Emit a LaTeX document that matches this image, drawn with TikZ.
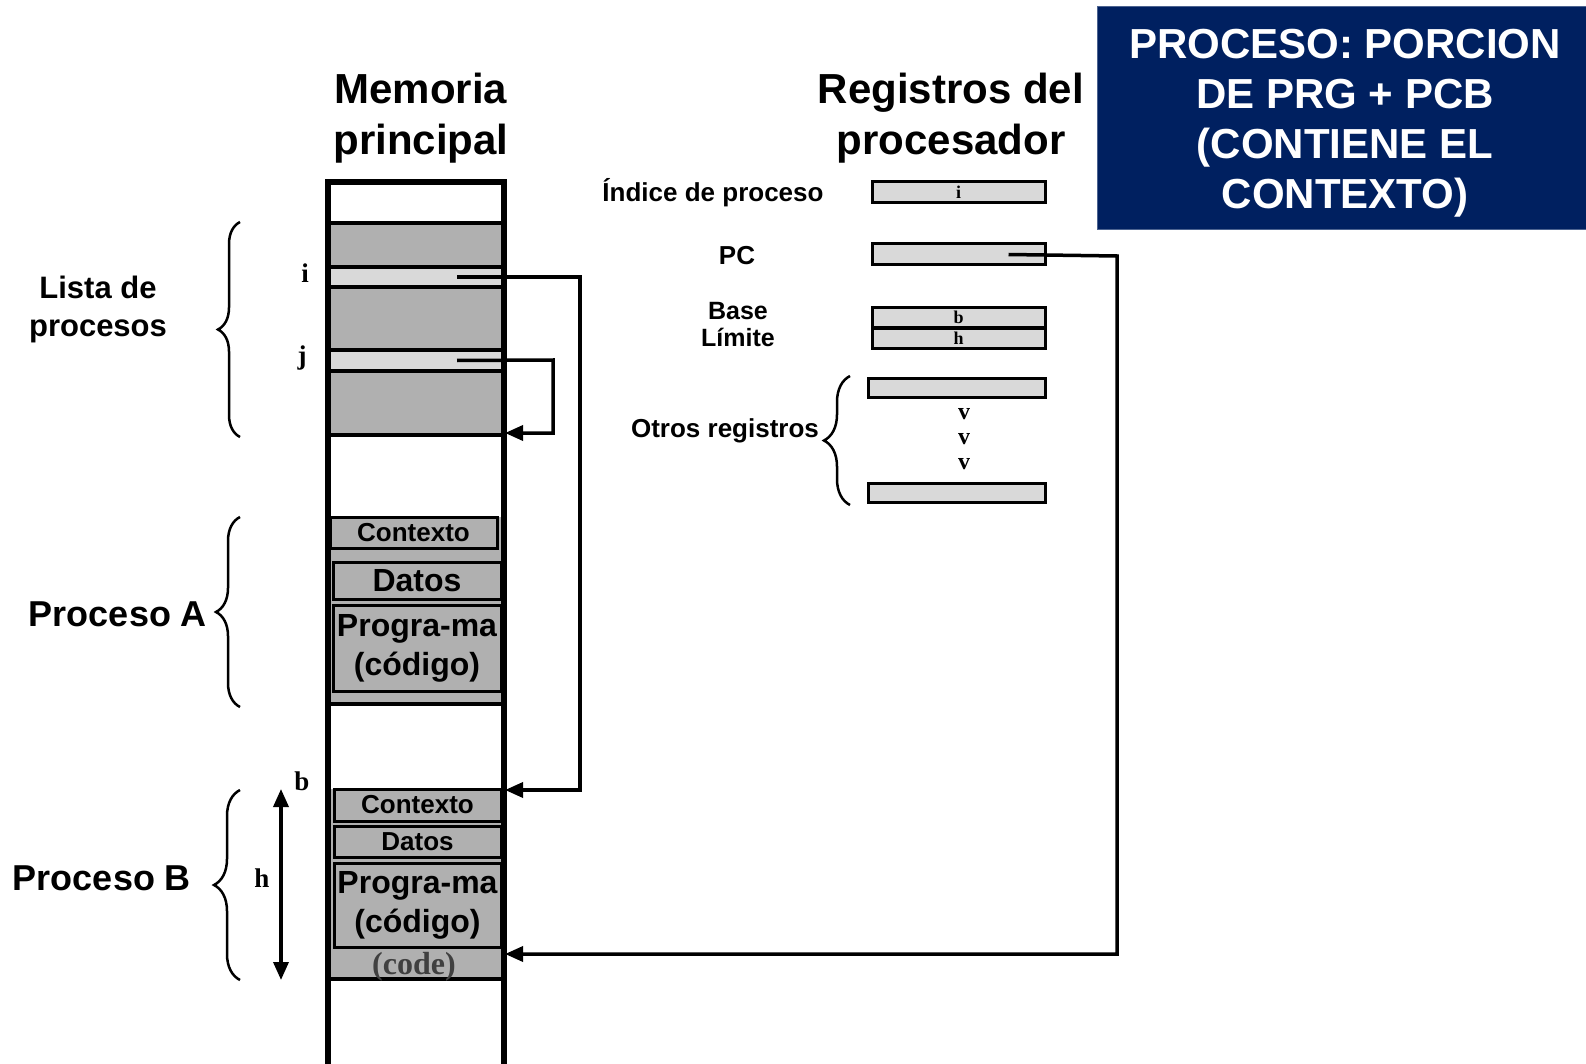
\documentclass[tikz,border=0pt]{standalone}
\usepackage{fontspec}
\setmainfont{Liberation Sans}
\newfontfamily\serifb{Liberation Serif}
\usetikzlibrary{arrows.meta,decorations.pathreplacing,calc}
\definecolor{memgray}{RGB}{176,176,176}
\definecolor{slotgray}{RGB}{217,217,217}
\definecolor{navy}{RGB}{0,32,96}
\newcommand\fsz[2]{\fontsize{#1pt}{#2pt}\selectfont\bfseries}
\begin{document}
\begin{tikzpicture}[x=1pt,y=-1pt,
  inbox/.style={draw=black,line width=3pt,fill=memgray,inner sep=0pt},
  reg/.style={draw=black,line width=3pt,fill=slotgray,inner sep=0pt,minimum width=173pt,minimum height=21pt},
  arr/.style={line width=3.5pt,-{Triangle[length=18pt,width=15pt]}},
  brc/.style={line width=2.5pt,decorate,decoration={brace,amplitude=#1}},
  sep/.style={line width=3.5pt},
  letter/.style={font=\serifb\fsz{27}{27}},
  small/.style={font=\serifb\fsz{18}{18}},
  dotmark/.style={font=\serifb\fsz{24}{24}},
  title/.style={font=\fsz{42}{51},align=center}]
\useasboundingbox (0,0) rectangle (1586,1064);

% ---------- memory column ----------
\fill[memgray] (330,223) rectangle (502,435);
\node (slotI) [fill=slotgray,inner sep=0pt,minimum width=172pt,minimum height=20pt] at (416,277) {};
\node (slotJ) [fill=slotgray,inner sep=0pt,minimum width=172pt,minimum height=21pt] at (416,360.5) {};
\foreach \y in {223,267,287,350,371,435} \draw[sep] (328,\y) -- (504,\y);

\fill[memgray] (330,517) rectangle (502,704);
\draw[sep] (328,704) -- (504,704);
\fill[memgray] (330,789) rectangle (502,979);
\draw[sep] (328,979) -- (504,979);
\node (codeB) [font=\serifb\fsz{32}{32},text=black!75] at (414,967) {(code)};

\node (ctxA) [inbox,minimum width=167pt,minimum height=31pt,font=\fsz{26}{26}] at (413.5,532.5) {Contexto};
\node (datA) [inbox,minimum width=168pt,minimum height=37pt,font=\fsz{32}{32}] at (417,580.5) {Datos};
\node (prgA) [inbox,minimum width=168pt,minimum height=86pt,font=\fsz{32}{39},align=center] at (417,648) {Progra-ma\\(código)};
\node (ctxB) [inbox,minimum width=167pt,minimum height=32pt,font=\fsz{26}{26}] at (417.5,805) {Contexto};
\node (datB) [inbox,minimum width=167pt,minimum height=31pt,font=\fsz{26}{26}] at (417.5,841.5) {Datos};
\node (prgB) [inbox,minimum width=167pt,minimum height=84pt,font=\fsz{32}{39},align=center] at (417.5,905) {Progra-ma\\(código)};

\draw[line width=5.5pt,line join=miter] (328,1075) -- (328,182) -- (504,182) -- (504,1075);

\node (li) [letter] at (305,273) {i};
\node (lj) [letter] at (302,358) {j};
\node (lb) [letter] at (302,781) {b};
\node (lh) [letter] at (262,878) {h};
\coordinate (hTop) at (281,789);
\coordinate (hBot) at (281,980);
\draw[line width=3.5pt,{Triangle[length=18pt,width=15pt]}-{Triangle[length=18pt,width=15pt]}] (hTop) -- (hBot);

% ---------- left labels and braces ----------
\node (lista) [font=\fsz{31}{38},align=center] at (98,309) {Lista de\\procesos};
\node (procA) [font=\fsz{36}{36}] at (118,614) {Proceso A};
\node (procB) [font=\fsz{36}{36}] at (102,878) {Proceso B};
\draw[brc=22pt] (240,437) -- (240,222);
\draw[brc=24pt] (240,707) -- (240,517);
\draw[brc=26pt] (240,980) -- (240,790);

% ---------- titles ----------
\node (memT) [title] at (421,118) {Memoria\\principal};
\node (regT) [title] at (951,118) {Registros del\\procesador};
\node (note) [fill=navy,draw=navy!70!white,line width=1pt,minimum width=496pt,minimum height=223pt] at (1345,118.5) {};
\node (noteT) [text=white,font=\fsz{42}{50},align=center] at ($(note.center)+(0,5)$) {PROCESO: PORCION\\DE PRG + PCB\\(CONTIENE EL\\CONTEXTO)};

% ---------- registers ----------
\node (idxL) [font=\fsz{26}{26}] at (713,193) {Índice de proceso};
\node (pcL) [font=\fsz{26}{26}] at (737,256) {PC};
\node (blL) [font=\fsz{25}{27},align=center] at (738,325) {Base\\Límite};
\node (otL) [font=\fsz{26}{26}] at (725,431) {Otros registros};

\node (idx) [reg] at (958.5,192.5) {};
\node [small] at (idx) {i};
\node (pc) [reg] at (958.5,254.5) {};
\node (base) [reg,minimum height=20pt] at (958.5,317.5) {};
\node [small] at (base) {b};
\node (lim) [reg,minimum height=20pt] at (958.5,338) {};
\node [small] at (lim) {h};
\node (o1) [reg,minimum width=177pt,minimum height=19pt] at (956.5,387.5) {};
\node (o2) [reg,minimum width=177pt,minimum height=19pt] at (956.5,492.5) {};
\foreach \y in {414,439,464} \node [dotmark] at (964,\y) {v};
\draw[brc=26pt] (850,505) -- (850,376);

% ---------- connectors ----------
\coordinate (iS) at ($(slotI.center)+(41,0)$);
\coordinate (jS) at ($(slotJ.center)+(41,0)$);
\coordinate (pcS) at ($(pc.center)+(50,0)$);
\coordinate (bEnd) at (505,790);
\coordinate (jEnd) at (505,433);
\coordinate (pcEnd) at (505,954);
\draw[arr] (iS) -- (580,277) -- (580,790) -- (bEnd);
\draw[arr] (jS) -- (553,360) -- (553,433) -- (jEnd);
\draw[arr] (pcS) -- (1117,256) -- (1117,954) -- (pcEnd);
\end{tikzpicture}
\end{document}
